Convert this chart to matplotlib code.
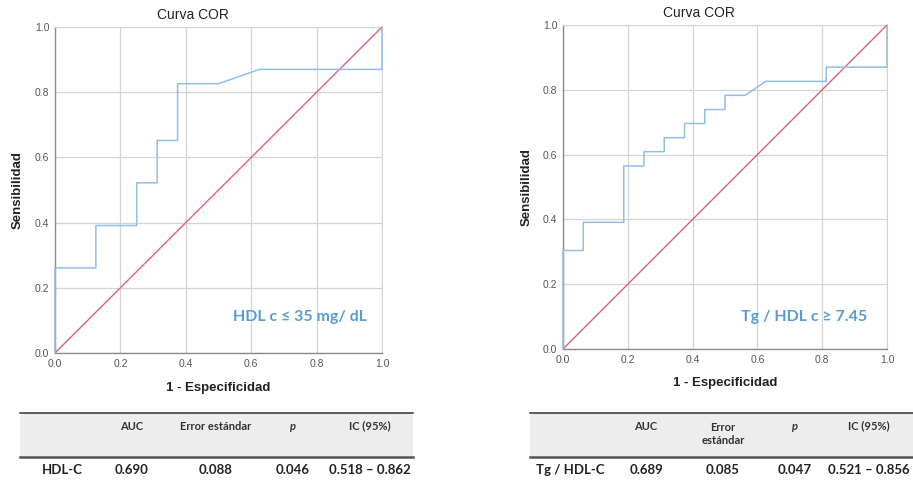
import matplotlib
matplotlib.use("Agg")
import matplotlib.pyplot as plt
from matplotlib.lines import Line2D
from matplotlib.patches import Rectangle

# ---- data ----
hdl_fpr = [0.0, 0.0, 0.125, 0.125, 0.25, 0.25, 0.3125, 0.3125, 0.375, 0.375, 0.5, 0.625, 1.0, 1.0]
hdl_tpr = [0.0, 0.261, 0.261, 0.391, 0.391, 0.522, 0.522, 0.652, 0.652, 0.826, 0.826, 0.870, 0.870, 1.0]

tg_fpr = [0.0, 0.0, 0.0625, 0.0625, 0.1875, 0.1875, 0.25, 0.25, 0.3125, 0.3125, 0.375, 0.375,
          0.4375, 0.4375, 0.5, 0.5, 0.5625, 0.625, 0.8125, 0.8125, 1.0, 1.0]
tg_tpr = [0.0, 0.304, 0.304, 0.391, 0.391, 0.565, 0.565, 0.609, 0.609, 0.652, 0.652, 0.696,
          0.696, 0.739, 0.739, 0.783, 0.783, 0.826, 0.826, 0.870, 0.870, 1.0]

ref_line = [0.0, 1.0]
ticks = [0.0, 0.2, 0.4, 0.6, 0.8, 1.0]
tick_labels = ["0.0", "0.2", "0.4", "0.6", "0.8", "1.0"]

title = "Curva COR"
xlabel = "1 - Especificidad"
ylabel = "Sensibilidad"
hdl_note = "HDL c ≤ 35 mg/ dL"
tg_note = "Tg / HDL c ≥ 7.45"

table_cols = ["AUC", "Error estándar", "p", "IC (95%)"]
hdl_row = ["HDL-C", "0.690", "0.088", "0.046", "0.518 – 0.862"]
tg_row = ["Tg / HDL-C", "0.689", "0.085", "0.047", "0.521 – 0.856"]

W, H = 913, 482
fig = plt.figure(figsize=(W / 100, H / 100), dpi=100)
fig.patch.set_facecolor("white")

def fx(x):
    return x / W

def fy(y):
    return 1 - y / H

BLUE = "#93bdea"
RED = "#e2607c"
NOTE = "#5b9bd5"
SANS = ["Liberation Sans", "DejaVu Sans"]
CAL = ["Lato", "DejaVu Sans"]

def roc_axes(rect, fpr, tpr, note, note_xy, title_xy, xl_xy, yl_xy):
    l, t, r, b = rect
    ax = fig.add_axes([fx(l), fy(b), fx(r - l), (b - t) / H])
    ax.set_xlim(0, 1)
    ax.set_ylim(0, 1)
    ax.set_xticks(ticks)
    ax.set_yticks(ticks)
    ax.set_xticklabels(tick_labels, family=SANS, fontsize=7.5, color="#555555")
    ax.set_yticklabels(tick_labels, family=SANS, fontsize=7.5, color="#555555")
    ax.tick_params(length=0, pad=4)
    ax.grid(True, color="#d4d4d4", lw=0.9)
    ax.set_axisbelow(True)
    for s in ["top", "right"]:
        ax.spines[s].set_color("#d4d4d4")
    for s in ["left", "bottom"]:
        ax.spines[s].set_color("#8a8a8a")
        ax.spines[s].set_linewidth(1.0)
    ax.plot(ref_line, ref_line, color=RED, lw=1.0, zorder=3)
    ax.plot(fpr, tpr, color=BLUE, lw=1.1, zorder=4, clip_on=False)
    fig.text(fx(note_xy[0]), fy(note_xy[1]), note, family=CAL, fontsize=11.5,
             fontweight="bold", color=NOTE, ha="center", va="center")
    fig.text(fx(title_xy[0]), fy(title_xy[1]), title, family=SANS, fontsize=10,
             color="#222222", ha="center", va="center")
    fig.text(fx(xl_xy[0]), fy(xl_xy[1]), xlabel, family=SANS, fontsize=9.5,
             fontweight="bold", color="#222222", ha="center", va="center")
    fig.text(fx(yl_xy[0]), fy(yl_xy[1]), ylabel, family=SANS, fontsize=9.5,
             fontweight="bold", color="#222222", ha="center", va="center",
             rotation=90)
    return ax

roc_axes((55, 27, 382, 353), hdl_fpr, hdl_tpr, hdl_note, (300, 317),
         (193, 15), (218, 388), (18, 190))
roc_axes((563, 25, 887, 349), tg_fpr, tg_tpr, tg_note, (804, 317),
         (699, 13), (725, 383), (527, 187))

def table(x0, x1, col_x, row, two_line_err):
    top, bot = 413, 457
    fig.patches.append(Rectangle((fx(x0), fy(bot)), fx(x1 - x0), (bot - top) / H,
                                 transform=fig.transFigure, facecolor="#ededed",
                                 edgecolor="none", zorder=0))
    fig.lines.append(Line2D([fx(x0), fx(x1)], [fy(top), fy(top)],
                            transform=fig.transFigure, color="#333333", lw=1.1))
    fig.lines.append(Line2D([fx(x0), fx(x1)], [fy(bot), fy(bot)],
                            transform=fig.transFigure, color="#555555", lw=1.8))
    for i, c in enumerate(table_cols):
        txt = c
        y = 426
        if i == 1 and two_line_err:
            txt = "Error\nestándar"
            y = 434
        style = "italic" if c == "p" else "normal"
        fig.text(fx(col_x[i + 1]), fy(y), txt, family=CAL, fontsize=8,
                 fontweight="bold", fontstyle=style, color="#333333",
                 ha="center", va="center", linespacing=1.3)
    for i, v in enumerate(row):
        fig.text(fx(col_x[i]), fy(470), v, family=CAL, fontsize=9.5,
                 fontweight="bold", color="#222222", ha="center", va="center")

table(20, 413, [62, 132, 216, 293, 370], hdl_row, False)
table(530, 913, [570, 646, 723, 795, 869], tg_row, True)

fig.savefig("out.png", dpi=100, facecolor="white")
